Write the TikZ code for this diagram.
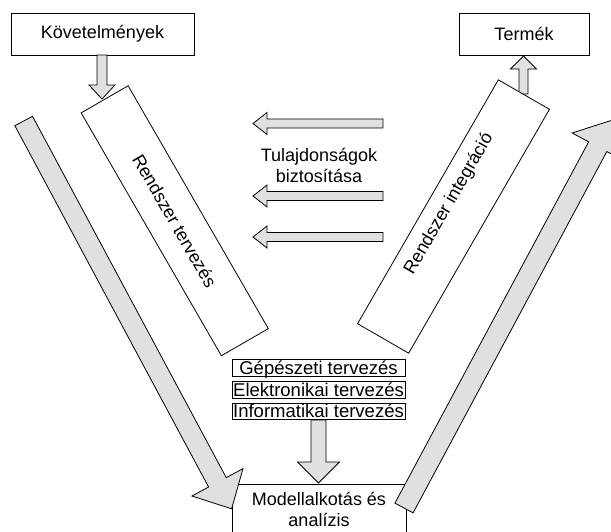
\documentclass[tikz,border=0pt]{standalone}
\usepackage{fontspec}
\setmainfont{Liberation Sans}
\definecolor{arrowfill}{RGB}{224,224,224}
\newcommand\blockarr[7]{%
  \begin{scope}[shift={(#1,#2)},rotate=#3]
    \filldraw[barrow] (0,#5) -- ({#4-#7},#5) -- ({#4-#7},#6) -- (#4,0)
      -- ({#4-#7},-#6) -- ({#4-#7},-#5) -- (0,-#5) -- cycle;
  \end{scope}}
\begin{document}
\begin{tikzpicture}[x=1pt,y=-1pt,line width=0.8pt,
  every node/.style={font=\fontsize{18}{21}\selectfont},
  box/.style={draw,fill=white,inner sep=0pt},
  smallbox/.style={box,minimum width=173pt,minimum height=16.5pt,text height=14.3pt,text depth=2.2pt,font=\fontsize{18.5}{21}\selectfont},
  barrow/.style={draw,fill=arrowfill,line join=miter}]
\useasboundingbox (0,0) rectangle (611,531);
\clip (0,0) rectangle (611,531);

% top boxes
\node[box,minimum width=183pt,minimum height=42pt] (kov) at (102.5,34) {Követelmények};
\node[box,minimum width=130pt,minimum height=42pt] (termek) at (524,34) {Termék};

% bottom box
\node[box,minimum width=174pt,minimum height=70pt,anchor=north west] (modell) at (232,484) {};
\node[align=center] (modtxt) at (319,509) {Modellalkotás és\\analízis};

% small arrows into/out of the boxes
\blockarr{102}{55}{-90}{44}{5}{13}{14}
\blockarr{523.5}{94}{90}{38}{4.5}{13}{13}

% slanted phase boxes
\node[box,minimum width=280.4pt,minimum height=54.2pt,rotate=-60] (rt) at (174.75,220.75) {Rendszer tervezés};
\node[box,minimum width=281.6pt,minimum height=59pt,rotate=60] (ri) at (453.5,216.5) {};
\node[rotate=60,inner sep=0pt] (ritxt) at (449,204) {Rendszer integráció};

% big V arrows
\blockarr{23.7}{121}{-61.8}{440}{10}{29}{30}
\blockarr{404}{508}{61.8}{440}{10.3}{29}{30}

% property arrows
\blockarr{383}{123.5}{180}{130}{4.5}{11}{14}
\blockarr{383}{196}{180}{130}{4.5}{11}{14}
\blockarr{383}{237}{180}{130}{4.5}{11}{14}
\node[align=center] (tul) at (319,165) {Tulajdonságok\\biztosítása};

% discipline boxes
\node[smallbox] (gep) at (318.5,368) {Gépészeti tervezés};
\node[smallbox] (elek) at (318.5,390) {Elektronikai tervezés};
\node[smallbox] (info) at (318.5,411.5) {Informatikai tervezés};
\blockarr{318.5}{420}{-90}{63}{7.5}{21}{21}
\end{tikzpicture}
\end{document}
